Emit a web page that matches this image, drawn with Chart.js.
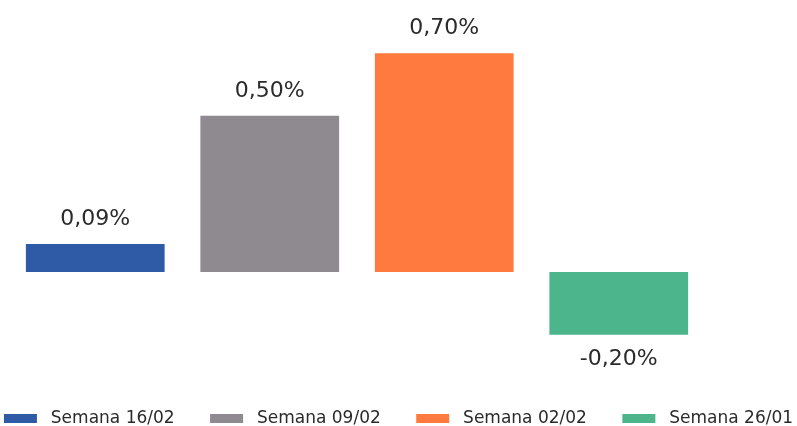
<!DOCTYPE html>
<html>
<head>
<meta charset="utf-8">
<script src="https://cdn.jsdelivr.net/npm/chart.js@4/dist/chart.umd.min.js"></script>
<style>
  html, body { margin: 0; padding: 0; background: #fff; }
  #wrap { width: 797px; height: 426px; }
</style>
</head>
<body>
<div id="wrap"><canvas id="myChart"></canvas></div>
<script>
'use strict';

const weeks = ['Semana 16/02', 'Semana 09/02', 'Semana 02/02', 'Semana 26/01'];
const changes = [0.09, 0.50, 0.70, -0.20];
const colors = ['#2f5ba6', '#8e8a8f', '#ff7a3f', '#4db58b'];

// prints "0,09%" style labels above (or below) each bar
const valueLabels = {
  id: 'valueLabels',
  afterDatasetsDraw(chart) {
    const ctx = chart.ctx;
    ctx.save();
    ctx.font = '22px "DejaVu Sans"';
    ctx.fillStyle = '#2b2b2b';
    ctx.textAlign = 'center';
    ctx.textBaseline = 'middle';
    chart.data.datasets.forEach((ds, i) => {
      const bar = chart.getDatasetMeta(i).data[0];
      const v = ds.data[0];
      const text = v.toFixed(2).replace('.', ',') + '%';
      const y = v >= 0 ? bar.y - 24.5 : bar.y + 24.5;
      ctx.fillText(text, bar.x, y);
    });
    ctx.restore();
  },
};

const ctx = document.getElementById('myChart');

new Chart(ctx, {
  type: 'bar',
  data: {
    labels: [''],
    datasets: weeks.map((w, i) => ({
      label: w,
      data: [changes[i]],
      backgroundColor: colors[i],
      borderWidth: 0,
    })),
  },
  options: {
    responsive: true,
    maintainAspectRatio: false,
    animation: false,
    categoryPercentage: 1,
    barPercentage: 0.795,
    layout: { padding: { top: 22, bottom: -11 } },
    scales: {
      x: { display: false },
      y: {
        min: -0.4315,
        max: 0.8,
        position: 'left',
        grid: { display: false },
        border: { display: false },
        ticks: { display: false },
        afterFit: (scale) => { scale.width = 8; },
      },
      pad: {
        position: 'right',
        grid: { display: false },
        border: { display: false },
        ticks: { display: false },
        afterFit: (scale) => { scale.width = 91; },
      },
    },
    plugins: {
      tooltip: { enabled: false },
      legend: {
        position: 'bottom',
        labels: {
          font: { family: 'DejaVu Sans', size: 17 },
          color: '#2b2b2b',
          boxWidth: 33,
          boxHeight: 9,
          padding: 3,
          // spread the four entries across one row
          generateLabels(chart) {
            const items = Chart.defaults.plugins.legend.labels.generateLabels(chart);
            items.forEach((item, i) => {
              item.text = ' ' + item.text + (i < items.length - 1 ? '      ' : '');
            });
            return items;
          },
        },
      },
    },
  },
  plugins: [valueLabels],
});
</script>
</body>
</html>
